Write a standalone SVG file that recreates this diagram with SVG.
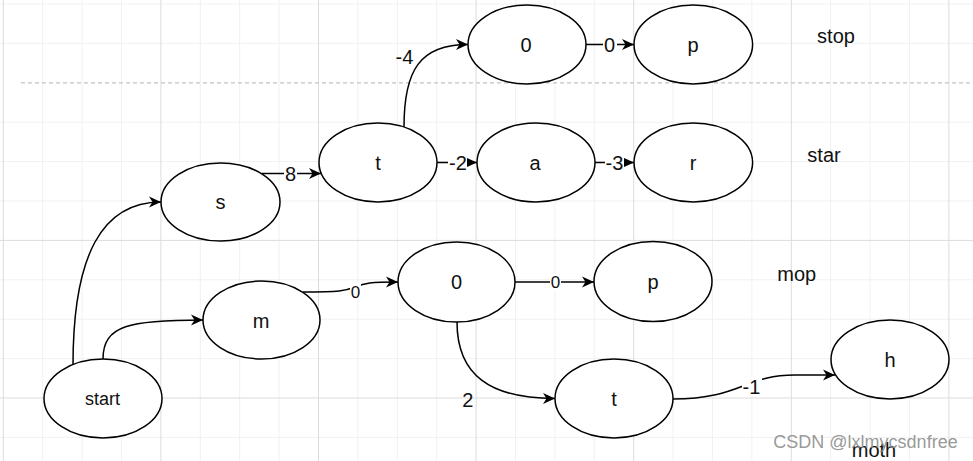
<svg xmlns="http://www.w3.org/2000/svg" width="973" height="461" viewBox="0 0 973 461">
<style>
.minor{stroke:#f1f1f1;stroke-width:1;fill:none}
.major{stroke:#dcdcdc;stroke-width:1;fill:none}
.node ellipse{fill:#fff;stroke:#000;stroke-width:1.5}
.node text,.lbl,.side{font-family:"Liberation Sans",Arial,sans-serif;font-size:20px;fill:#111;text-anchor:middle}
.edge{fill:none;stroke:#000;stroke-width:1.5}
.bg{fill:#fff}
.small{font-size:17px}
</style>
<defs>
<marker id="arr" markerWidth="13" markerHeight="12" refX="12" refY="6" orient="auto" markerUnits="userSpaceOnUse"><path d="M0,0.5 L12,6 L0,11.5 L3.5,6 Z" fill="#000"/></marker>
<marker id="blk" markerWidth="10" markerHeight="9" refX="10" refY="4.5" orient="auto" markerUnits="userSpaceOnUse"><path d="M0,0 L10,4.5 L0,9 Z" fill="#000"/></marker>
</defs>
<rect width="973" height="461" fill="#fff"/>
<g id="grid">
<path class="minor" d="M42.7 0V461M82.1 0V461M121.5 0V461M200.3 0V461M239.7 0V461M279.1 0V461M357.9 0V461M397.3 0V461M436.7 0V461M515.5 0V461M554.9 0V461M594.3 0V461M673.1 0V461M712.5 0V461M751.9 0V461M830.7 0V461M870.1 0V461M909.5 0V461M0 4H973M0 43.4H973M0 122.2H973M0 161.6H973M0 201H973M0 279.8H973M0 319.2H973M0 358.6H973M0 437.4H973"/>
<path class="major" d="M3.3 0V461M160.9 0V461M318.5 0V461M476.1 0V461M633.7 0V461M791.3 0V461M948.9 0V461M0 240.4H973M0 398H973"/>
<path d="M21 82.8H973" stroke="#c4c4c4" stroke-width="1.2" stroke-dasharray="4 3" fill="none"/>
</g>
<g id="connectors">
<path class="edge" d="M73 365 C73 255 102 202 161 202" marker-end="url(#arr)"/>
<path class="edge" d="M103 359 C103 325 130 320 203 320" marker-end="url(#arr)"/>
<path class="edge" d="M262 173.5 H321" marker-end="url(#arr)"/>
<path class="edge" d="M404 127 C404 70 420 44.5 468 44.5" marker-end="url(#arr)"/>
<path class="edge" d="M437 162.5 H477" marker-end="url(#blk)"/>
<path class="edge" d="M595 162.5 H634" marker-end="url(#blk)"/>
<path class="edge" d="M586 44.5 H634" marker-end="url(#arr)"/>
<path class="edge" d="M303 292 C340 292 345 291 355 287 C365 283 370 282 398 282" marker-end="url(#arr)"/>
<path class="edge" d="M515 282 H594" marker-end="url(#arr)"/>
<path class="edge" d="M457 322 C457 375 490 398.5 555 398.5" marker-end="url(#arr)"/>
<path class="edge" d="M673 399 C740 399 745 375 795 375 L835 375" marker-end="url(#arr)"/>
<rect class="bg" x="284" y="164" width="13" height="19"/>
<text class="lbl" x="290.5" y="180.5">8</text>
<text class="lbl" x="404.5" y="63.7">-4</text>
<rect class="bg" x="448" y="153" width="19" height="19"/>
<text class="lbl" x="458" y="169.5">-2</text>
<rect class="bg" x="605" y="153" width="19" height="19"/>
<text class="lbl" x="614.5" y="169.5">-3</text>
<rect class="bg" x="603" y="35" width="14" height="19"/>
<text class="lbl" x="609.5" y="51.5">0</text>
<rect class="bg" x="350" y="283" width="11" height="17"/>
<text class="lbl small" x="355.5" y="297.5">0</text>
<rect class="bg" x="550" y="273" width="11" height="17"/>
<text class="lbl small" x="555.5" y="287.8">0</text>
<text class="lbl" x="467.7" y="407.2">2</text>
<rect class="bg" x="742" y="377" width="20" height="19"/>
<text class="lbl" x="751.5" y="393.7">-1</text>
</g>
<g id="node-start" class="node"><ellipse cx="103" cy="398.5" rx="59" ry="39.5"/><text x="102.5" y="404.5" style="font-size:18px">start</text></g>
<g id="node-s" class="node"><ellipse cx="220.5" cy="202" rx="59.5" ry="39"/><text x="220.5" y="209">s</text></g>
<g id="node-t1" class="node"><ellipse cx="378" cy="162.5" rx="59" ry="39.5"/><text x="378" y="169.5">t</text></g>
<g id="node-o1" class="node"><ellipse cx="527" cy="44.5" rx="59" ry="39.5"/><text x="526" y="52">0</text></g>
<g id="node-p1" class="node"><ellipse cx="693.3" cy="44.5" rx="59.3" ry="39.5"/><text x="693" y="51.5">p</text></g>
<g id="node-a" class="node"><ellipse cx="536" cy="162.5" rx="59" ry="39.5"/><text x="535" y="169.5">a</text></g>
<g id="node-r" class="node"><ellipse cx="693.3" cy="162.5" rx="59.3" ry="39.5"/><text x="693" y="169.5">r</text></g>
<g id="node-m" class="node"><ellipse cx="261.5" cy="320" rx="58.5" ry="39"/><text x="261" y="327.5">m</text></g>
<g id="node-o2" class="node"><ellipse cx="456.5" cy="282" rx="58.5" ry="40"/><text x="456.5" y="289">0</text></g>
<g id="node-p2" class="node"><ellipse cx="653" cy="281.5" rx="59" ry="40"/><text x="653" y="288.5">p</text></g>
<g id="node-t2" class="node"><ellipse cx="614" cy="398.5" rx="59" ry="39.5"/><text x="614" y="405.5">t</text></g>
<g id="node-h" class="node"><ellipse cx="890" cy="359.5" rx="59" ry="39.5"/><text x="890" y="366.5">h</text></g>
<g id="side-labels">
<text class="side" x="836" y="43.3">stop</text>
<text class="side" x="824" y="161.7">star</text>
<text class="side" x="796.7" y="281">mop</text>
<text class="side" x="874" y="456.7">moth</text>
<text x="865.5" y="447.7" style="font-family:'Liberation Sans',Arial,sans-serif;font-size:18px;text-anchor:middle;fill:#8c8c8c;fill-opacity:0.9">CSDN @lxlmycsdnfree</text>
</g>
</svg>
